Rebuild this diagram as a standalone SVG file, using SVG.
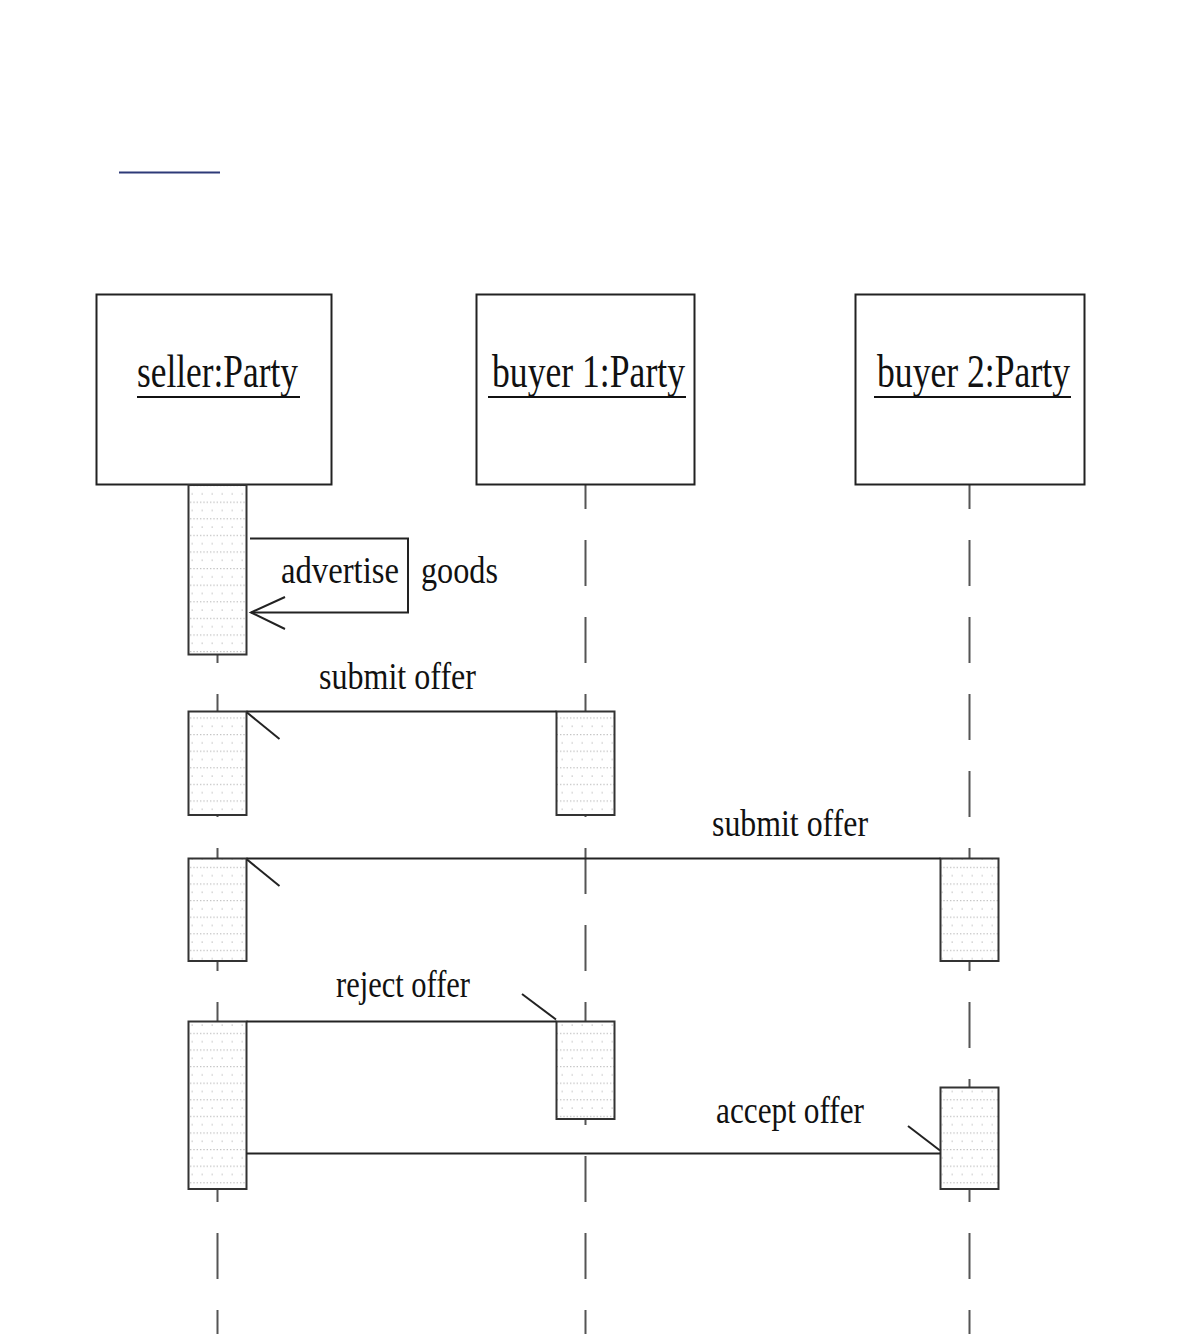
<svg xmlns="http://www.w3.org/2000/svg" width="1184" height="1343" viewBox="0 0 1184 1343">
  <style>
    .box { fill: #ffffff; stroke: #222222; stroke-width: 2; }
    .title { font-family: "Liberation Serif", "Times New Roman", serif; font-size: 46px; fill: #111111; }
    .label { font-family: "Liberation Serif", "Times New Roman", serif; font-size: 38px; fill: #111111; }
    .uline { stroke: #111111; stroke-width: 2; }
    .life { stroke: #555555; stroke-width: 2; stroke-dasharray: 46 31; fill: none; }
    .act { fill: url(#dots); stroke: #333333; stroke-width: 2; }
    .msg { stroke: #222222; stroke-width: 2; fill: none; }
  </style>
  <defs>
    <pattern id="dots" patternUnits="userSpaceOnUse" width="10" height="16.6" x="0" y="485">
      <rect width="10" height="16.6" fill="#ffffff"/>
      <rect x="0" y="0" width="1.4" height="1.2" fill="#c4c4c4"/>
      <rect x="3.3" y="0" width="1.4" height="1.2" fill="#c4c4c4"/>
      <rect x="6.6" y="0" width="1.4" height="1.2" fill="#c4c4c4"/>
      <rect x="1.5" y="8.3" width="1.4" height="1.2" fill="#c4c4c4"/>
    </pattern>
  </defs>

  <line x1="119" y1="172.5" x2="220" y2="172.5" stroke="#2e3a78" stroke-width="2"/>

  <g id="lifelines">
    <line class="life" x1="217.5" y1="463" x2="217.5" y2="1334"/>
    <line class="life" x1="585.5" y1="463" x2="585.5" y2="1334"/>
    <line class="life" x1="969.5" y1="463" x2="969.5" y2="1334"/>
  </g>

  <g id="seller">
    <rect class="box" x="96.5" y="294.5" width="235" height="190"/>
    <text class="title" x="137" y="387" textLength="161" lengthAdjust="spacingAndGlyphs">seller:Party</text>
    <line class="uline" x1="137" y1="397" x2="300" y2="397"/>
  </g>
  <g id="buyer1">
    <rect class="box" x="476.5" y="294.5" width="218" height="190"/>
    <text class="title" x="492" y="387" textLength="193" lengthAdjust="spacingAndGlyphs">buyer 1:Party</text>
    <line class="uline" x1="488" y1="397" x2="686" y2="397"/>
  </g>
  <g id="buyer2">
    <rect class="box" x="855.5" y="294.5" width="229" height="190"/>
    <text class="title" x="877" y="387" textLength="193" lengthAdjust="spacingAndGlyphs">buyer 2:Party</text>
    <line class="uline" x1="874" y1="397" x2="1071" y2="397"/>
  </g>

  <g id="activations">
    <rect class="act" x="188.5" y="485" width="58" height="169.5"/>
    <rect class="act" x="188.5" y="711.5" width="58" height="103.5"/>
    <rect class="act" x="188.5" y="858.5" width="58" height="102.5"/>
    <rect class="act" x="188.5" y="1021.5" width="58" height="167.5"/>
    <rect class="act" x="556.5" y="711.5" width="58" height="103.5"/>
    <rect class="act" x="556.5" y="1021.5" width="58" height="97.5"/>
    <rect class="act" x="940.5" y="858.5" width="58" height="102.5"/>
    <rect class="act" x="940.5" y="1087.5" width="58" height="101.5"/>
  </g>

  <g id="connectors">
    <polyline class="msg" points="250,538.5 408,538.5 408,612.5 251,612.5"/>
    <polyline class="msg" points="285,597 251,612.5 285,629"/>
    <text class="label" x="281" y="583" textLength="118" lengthAdjust="spacingAndGlyphs">advertise</text>
    <text class="label" x="421" y="583" textLength="77" lengthAdjust="spacingAndGlyphs">goods</text>

    <line class="msg" x1="246.5" y1="711.5" x2="556.5" y2="711.5"/>
    <line class="msg" x1="247" y1="712.5" x2="279.5" y2="739"/>
    <text class="label" x="319" y="689" textLength="157" lengthAdjust="spacingAndGlyphs">submit offer</text>

    <line class="msg" x1="246.5" y1="858.5" x2="940.5" y2="858.5"/>
    <line class="msg" x1="247" y1="859.5" x2="279.5" y2="886"/>
    <text class="label" x="712" y="835.5" textLength="156" lengthAdjust="spacingAndGlyphs">submit offer</text>

    <line class="msg" x1="246.5" y1="1021.5" x2="556.5" y2="1021.5"/>
    <line class="msg" x1="556" y1="1019.5" x2="522" y2="994"/>
    <text class="label" x="336" y="997" textLength="134" lengthAdjust="spacingAndGlyphs">reject offer</text>

    <line class="msg" x1="246.5" y1="1153.5" x2="940.5" y2="1153.5"/>
    <line class="msg" x1="940" y1="1150.5" x2="908" y2="1126"/>
    <text class="label" x="716" y="1123" textLength="148" lengthAdjust="spacingAndGlyphs">accept offer</text>
  </g>
</svg>
